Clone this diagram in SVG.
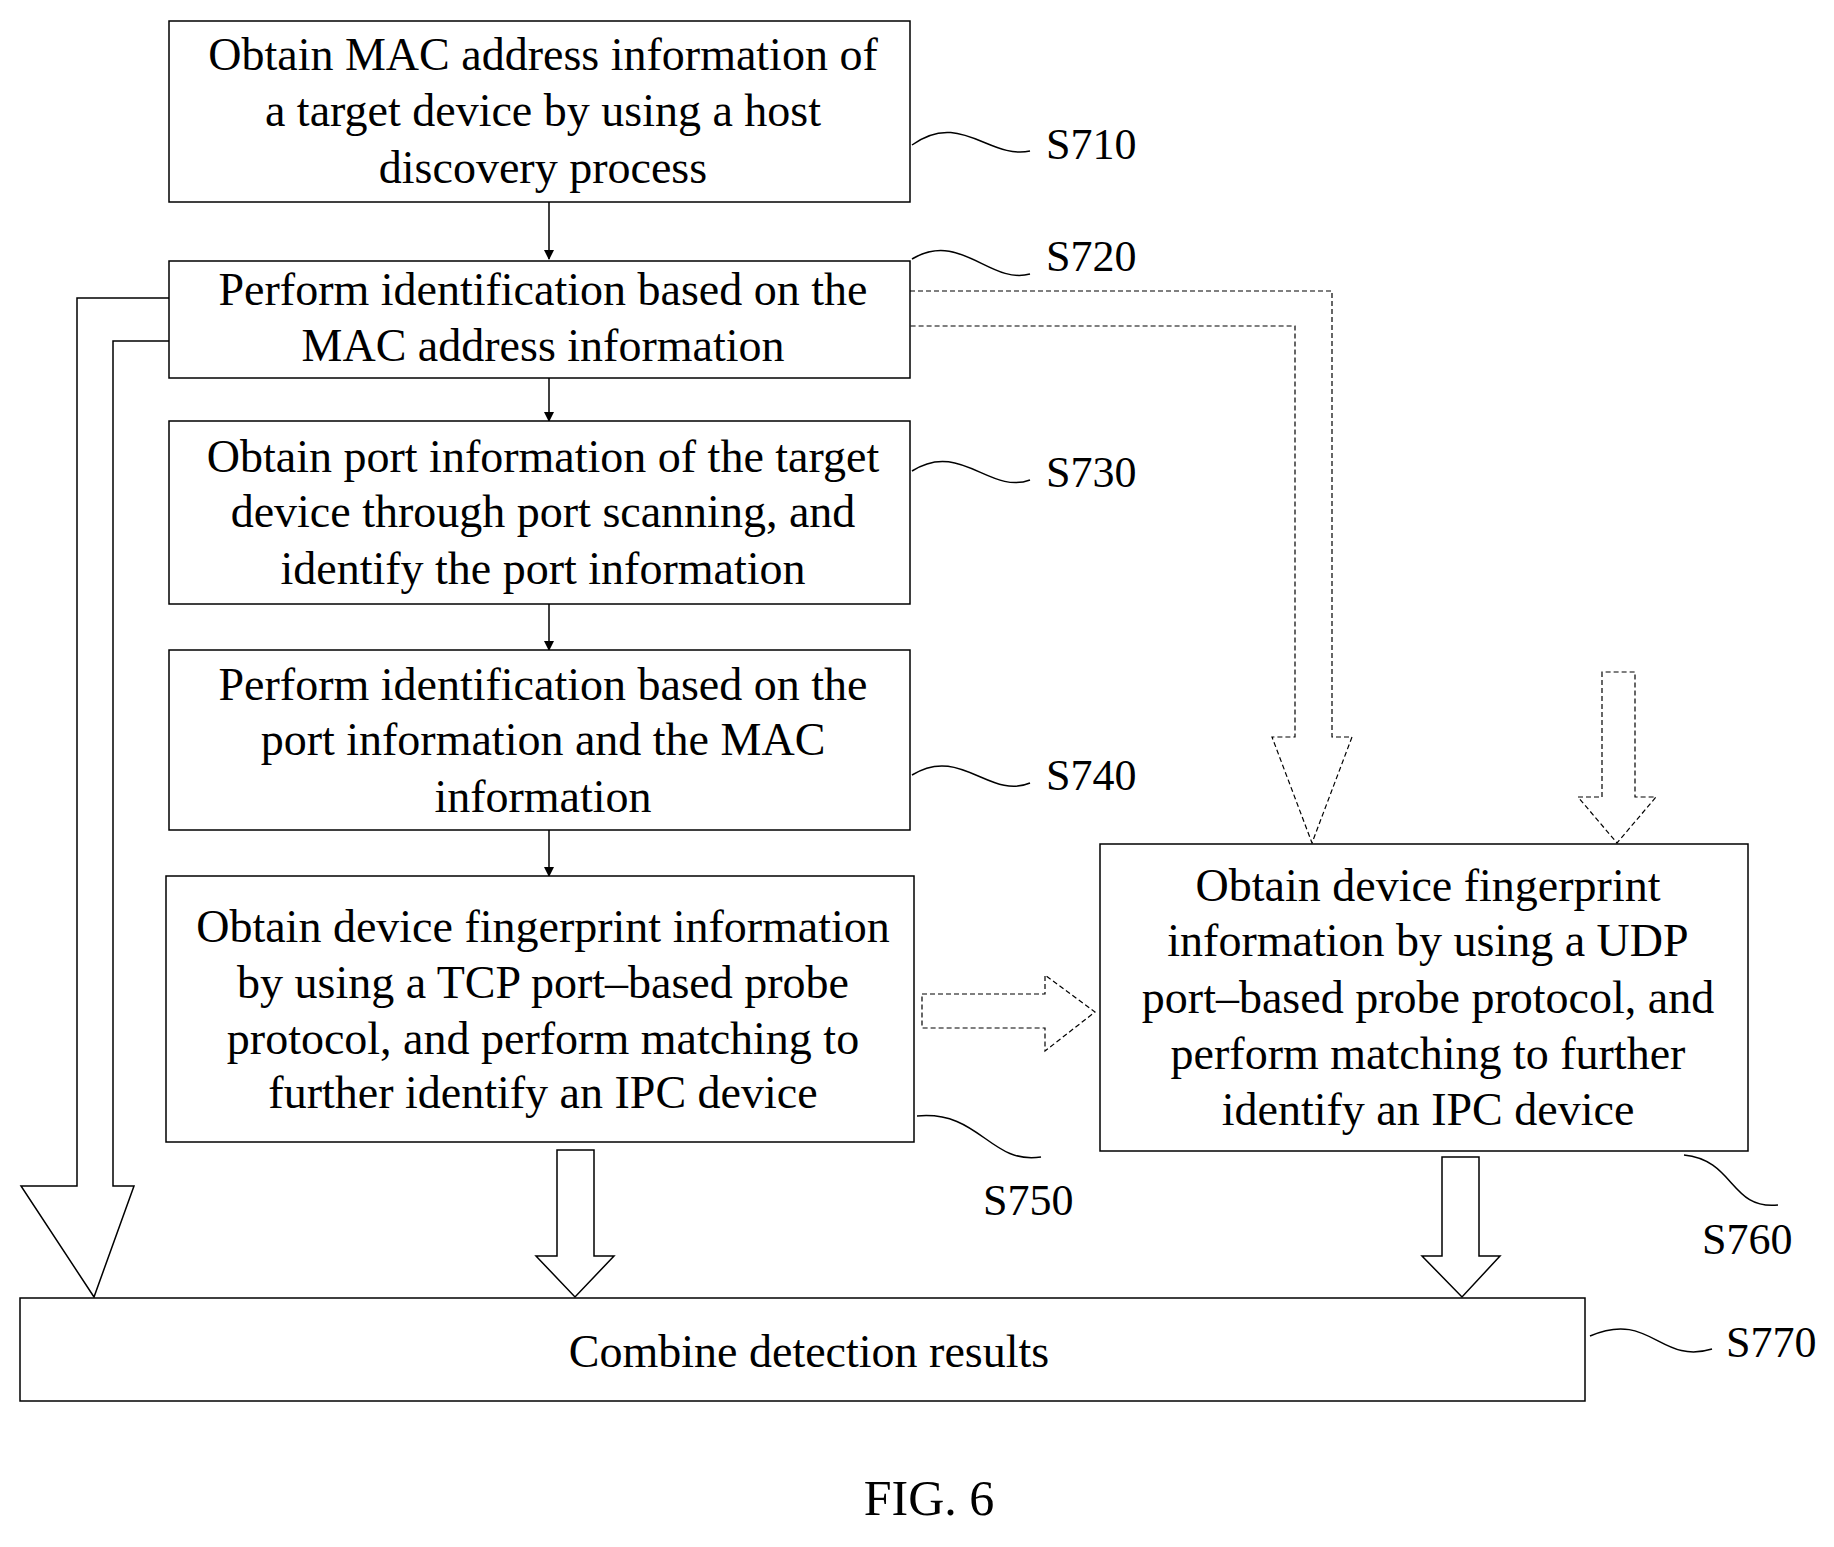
<svg xmlns="http://www.w3.org/2000/svg" width="1834" height="1547" viewBox="0 0 1834 1547">
<defs>
<style>
.b{fill:#fff;stroke:#000;stroke-width:1.5}
.t{font-family:"Liberation Serif",serif;font-size:46px;text-anchor:middle;fill:#000}
.l{font-family:"Liberation Serif",serif;font-size:44px;fill:#000}
.c{fill:none;stroke:#000;stroke-width:1.5}
.d{fill:none;stroke:#000;stroke-width:1.2;stroke-dasharray:5,3}
</style>
<marker id="a" markerWidth="10" markerHeight="10" refX="9" refY="5" orient="auto" markerUnits="userSpaceOnUse"><path d="M0,0 L10,5 L0,10 z"/></marker>
</defs>
<rect width="1834" height="1547" fill="#fff"/>
<g id="connectors">
<line class="c" x1="549" y1="202" x2="549" y2="259" marker-end="url(#a)"/>
<line class="c" x1="549" y1="376" x2="549" y2="421" marker-end="url(#a)"/>
<line class="c" x1="549" y1="604" x2="549" y2="650" marker-end="url(#a)"/>
<line class="c" x1="549" y1="830" x2="549" y2="876" marker-end="url(#a)"/>
<path class="c" d="M169,298 H77 V1186 H21 L94,1297 L134,1186 H113 V341 H169"/>
<path class="c" d="M557,1150 V1256 H536 L575,1297 L614,1256 H594 V1150 Z"/>
<path class="c" d="M1442,1157 V1256 H1422 L1462,1297 L1500,1256 H1479 V1157 Z"/>
<path class="d" d="M910,291 H1332 V737 H1352 L1312,843 L1272,737 H1295 V326 H910"/>
<path class="d" d="M1602,672 V797 H1578 L1617,843 L1656,797 H1635 V672 Z"/>
<path class="d" d="M922,994 H1045 V975 L1095,1012 L1045,1051 V1028 H922 Z"/>
<path class="c" d="M912,145 C960,110 990,160 1030,151"/>
<path class="c" d="M912,259 C960,230 990,285 1030,274"/>
<path class="c" d="M912,471 C960,440 990,495 1030,480"/>
<path class="c" d="M912,775 C960,745 990,800 1030,783"/>
<path class="c" d="M917,1116 C980,1110 990,1165 1041,1157"/>
<path class="c" d="M1684,1155 C1735,1160 1730,1210 1778,1205"/>
<path class="c" d="M1590,1336 C1650,1310 1660,1365 1712,1349"/>
</g>
<g id="S710"><rect class="b" x="169" y="21" width="741" height="181"/>
<text class="t" x="543" y="70">Obtain MAC address information of</text>
<text class="t" x="543" y="126">a target device by using a host</text>
<text class="t" x="543" y="183">discovery process</text>
<text class="l" x="1046" y="159">S710</text></g>
<g id="S720"><rect class="b" x="169" y="261" width="741" height="117"/>
<text class="t" x="543" y="305">Perform identification based on the</text>
<text class="t" x="543" y="361">MAC address information</text>
<text class="l" x="1046" y="271">S720</text></g>
<g id="S730"><rect class="b" x="169" y="421" width="741" height="183"/>
<text class="t" x="543" y="472">Obtain port information of the target</text>
<text class="t" x="543" y="527">device through port scanning, and</text>
<text class="t" x="543" y="584">identify the port information</text>
<text class="l" x="1046" y="487">S730</text></g>
<g id="S740"><rect class="b" x="169" y="650" width="741" height="180"/>
<text class="t" x="543" y="700">Perform identification based on the</text>
<text class="t" x="543" y="755">port information and the MAC</text>
<text class="t" x="543" y="812">information</text>
<text class="l" x="1046" y="790">S740</text></g>
<g id="S750"><rect class="b" x="166" y="876" width="748" height="266"/>
<text class="t" x="543" y="942">Obtain device fingerprint information</text>
<text class="t" x="543" y="998">by using a TCP port–based probe</text>
<text class="t" x="543" y="1054">protocol, and perform matching to</text>
<text class="t" x="543" y="1108">further identify an IPC device</text>
<text class="l" x="983" y="1215">S750</text></g>
<g id="S760"><rect class="b" x="1100" y="844" width="648" height="307"/>
<text class="t" x="1428" y="901">Obtain device fingerprint</text>
<text class="t" x="1428" y="956">information by using a UDP</text>
<text class="t" x="1428" y="1013">port–based probe protocol, and</text>
<text class="t" x="1428" y="1069">perform matching to further</text>
<text class="t" x="1428" y="1125">identify an IPC device</text>
<text class="l" x="1702" y="1254">S760</text></g>
<g id="S770"><rect class="b" x="20" y="1298" width="1565" height="103"/>
<text class="t" x="809" y="1367">Combine detection results</text>
<text class="l" x="1726" y="1357">S770</text></g>
<text class="t" x="929" y="1515" style="font-size:50px">FIG. 6</text>
</svg>
